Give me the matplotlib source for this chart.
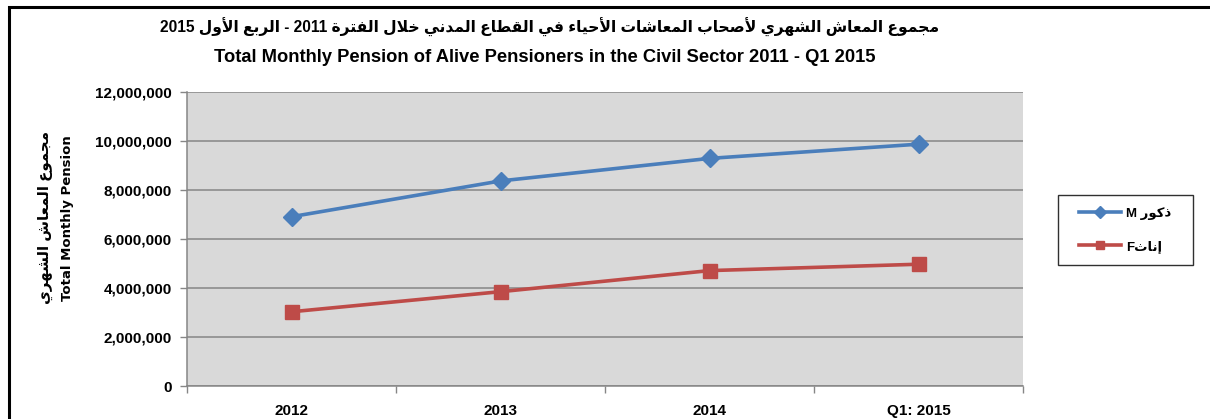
import re
import matplotlib
matplotlib.use("Agg")
import matplotlib.pyplot as plt
from matplotlib.patches import Rectangle
from matplotlib.lines import Line2D
from matplotlib.ticker import FuncFormatter, FixedLocator

# data
categories = ["2012", "2013", "2014", "Q1: 2015"]
male = [6910000, 8370000, 9290000, 9870000]
female = [3030000, 3850000, 4710000, 4970000]

title_ar = "مجموع المعاش الشهري لأصحاب المعاشات الأحياء في القطاع المدني خلال الفترة 2011 - الربع الأول 2015"
title_en = "Total Monthly Pension of Alive Pensioners in the Civil Sector 2011 - Q1 2015"
ylabel_ar = "مجموع المعاش الشهري"
ylabel_en = "Total Monthly Pension"
label_m = "ذكور M"
label_f = "إناثF"

# matplotlib has no arabic shaping, so map letters to presentation forms
# (isolated, final, initial, medial)
FORMS = {
    "ء": (0xFE80, None, None, None),
    "ا": (0xFE8D, 0xFE8E, None, None),
    "أ": (0xFE83, 0xFE84, None, None),
    "إ": (0xFE87, 0xFE88, None, None),
    "ب": (0xFE8F, 0xFE90, 0xFE91, 0xFE92),
    "ة": (0xFE93, 0xFE94, None, None),
    "ت": (0xFE95, 0xFE96, 0xFE97, 0xFE98),
    "ث": (0xFE99, 0xFE9A, 0xFE9B, 0xFE9C),
    "ج": (0xFE9D, 0xFE9E, 0xFE9F, 0xFEA0),
    "ح": (0xFEA1, 0xFEA2, 0xFEA3, 0xFEA4),
    "خ": (0xFEA5, 0xFEA6, 0xFEA7, 0xFEA8),
    "د": (0xFEA9, 0xFEAA, None, None),
    "ذ": (0xFEAB, 0xFEAC, None, None),
    "ر": (0xFEAD, 0xFEAE, None, None),
    "ش": (0xFEB5, 0xFEB6, 0xFEB7, 0xFEB8),
    "ص": (0xFEB9, 0xFEBA, 0xFEBB, 0xFEBC),
    "ط": (0xFEC1, 0xFEC2, 0xFEC3, 0xFEC4),
    "ع": (0xFEC9, 0xFECA, 0xFECB, 0xFECC),
    "ف": (0xFED1, 0xFED2, 0xFED3, 0xFED4),
    "ق": (0xFED5, 0xFED6, 0xFED7, 0xFED8),
    "ك": (0xFED9, 0xFEDA, 0xFEDB, 0xFEDC),
    "ل": (0xFEDD, 0xFEDE, 0xFEDF, 0xFEE0),
    "م": (0xFEE1, 0xFEE2, 0xFEE3, 0xFEE4),
    "ن": (0xFEE5, 0xFEE6, 0xFEE7, 0xFEE8),
    "ه": (0xFEE9, 0xFEEA, 0xFEEB, 0xFEEC),
    "و": (0xFEED, 0xFEEE, None, None),
    "ي": (0xFEF1, 0xFEF2, 0xFEF3, 0xFEF4),
}
LAM_ALEF = {"ا": (0xFEFB, 0xFEFC), "أ": (0xFEF7, 0xFEF8), "إ": (0xFEF9, 0xFEFA)}


def shape(text):
    out = []
    i = 0
    n = len(text)
    while i < n:
        c = text[i]
        if c not in FORMS:
            out.append(c)
            i += 1
            continue
        prev = text[i - 1] if i > 0 else ""
        join_prev = prev in FORMS and FORMS[prev][2] is not None and FORMS[c][1] is not None
        nxt = text[i + 1] if i + 1 < n else ""
        if c == "ل" and nxt in LAM_ALEF:
            out.append(chr(LAM_ALEF[nxt][1 if join_prev else 0]))
            i += 2
            continue
        join_next = FORMS[c][2] is not None and nxt in FORMS and FORMS[nxt][1] is not None
        if join_prev and join_next:
            k = 3
        elif join_prev:
            k = 1
        elif join_next:
            k = 2
        else:
            k = 0
        out.append(chr(FORMS[c][k]))
        i += 1
    vis = "".join(out)[::-1]
    # keep latin / digit runs left to right
    return re.sub(r"[A-Za-z0-9:,.]+", lambda m: m.group(0)[::-1], vis)


AR = ["Liberation Sans", "DejaVu Sans"]
blue = "#4A7EBB"
red = "#BE4B48"
grey = "#868686"

fig = plt.figure(figsize=(12.10, 4.19), dpi=100)
ax = fig.add_axes([187 / 1210, 1 - 386 / 419, (1023 - 187) / 1210, (386 - 92) / 419])
ax.set_facecolor("#D9D9D9")

x = range(len(categories))
ax.plot(x, male, color=blue, lw=2.6, marker="D", ms=9, zorder=3)
ax.plot(x, female, color=red, lw=2.6, marker="s", ms=9.5, zorder=3)

ax.set_xlim(-0.5, len(categories) - 0.5)
ax.set_ylim(0, 12000000)
ax.set_yticks(range(0, 12000001, 2000000))
ax.yaxis.set_major_formatter(FuncFormatter(lambda v, p: f"{v:,.0f}"))
ax.yaxis.grid(True, color=grey, lw=1.1)
ax.set_axisbelow(True)

ax.set_xticks(list(x))
ax.set_xticklabels(categories)
ax.xaxis.set_minor_locator(FixedLocator([i - 0.5 for i in range(len(categories) + 1)]))
ax.tick_params(axis="x", which="major", length=0, pad=13)
ax.tick_params(axis="x", which="minor", length=5, color=grey, width=1)
ax.tick_params(axis="y", length=5, color=grey, width=1, pad=6)
for lab in ax.get_xticklabels() + ax.get_yticklabels():
    lab.set_fontfamily("Liberation Sans")
    lab.set_fontweight("bold")
    lab.set_fontsize(11)

for s in ["top", "right"]:
    ax.spines[s].set_visible(False)
for s in ["left", "bottom"]:
    ax.spines[s].set_color(grey)
    ax.spines[s].set_linewidth(1.1)

fig.text(550 / 1210, 1 - 27 / 419, shape(title_ar), family=AR, weight="bold",
         fontsize=11.2, ha="center", va="center")
fig.text(545 / 1210, 1 - 57 / 419, title_en, family="Liberation Sans", weight="bold",
         fontsize=13.2, ha="center", va="center")
fig.text(45 / 1210, 1 - 217 / 419, shape(ylabel_ar), family=AR, weight="bold",
         fontsize=10.8, rotation=90, ha="center", va="center")
fig.text(68 / 1210, 1 - 218 / 419, ylabel_en, family="DejaVu Sans", weight="bold",
         fontsize=9.5, rotation=90, ha="center", va="center")

handles = [Line2D([], [], color=blue, lw=2.6, marker="D", ms=6),
           Line2D([], [], color=red, lw=2.6, marker="s", ms=6)]
leg = fig.legend(handles, [shape(label_m), shape(label_f)], loc="center",
                 bbox_to_anchor=(1125 / 1210, 1 - 230 / 419), frameon=False,
                 handlelength=3.2, labelspacing=1.5,
                 prop={"family": AR, "weight": "bold", "size": 9.5},
                 borderpad=0, handletextpad=0.4, borderaxespad=0)

# legend frame drawn separately: excel pads more on the sides than top/bottom
fig.patches.append(Rectangle((1058 / 1210, 1 - 265 / 419), 135 / 1210, 70 / 419,
                             transform=fig.transFigure, fill=False, ec="#303030", lw=1.0))

# outer chart border (cropped on right and bottom)
fig.patches.append(Rectangle((9 / 1210, -0.2), 1.2, 1.2 - 7 / 419, transform=fig.transFigure,
                             fill=False, ec="black", lw=2.2))

fig.savefig("out.png", dpi=100)
